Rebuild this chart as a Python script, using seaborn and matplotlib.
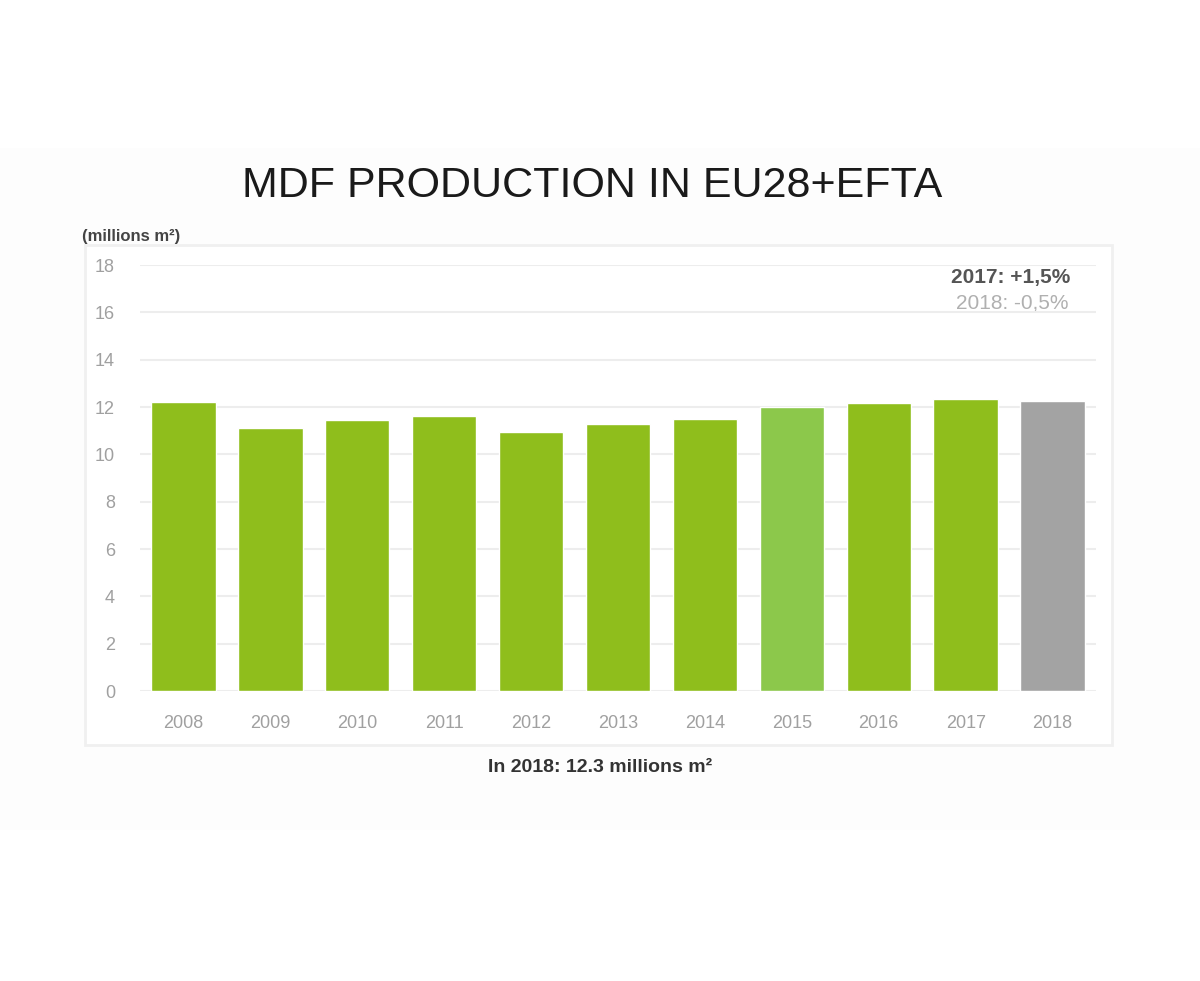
import pandas as pd
import seaborn as sns
import matplotlib.pyplot as plt
from matplotlib.patches import Rectangle

years = ['2008', '2009', '2010', '2011', '2012', '2013', '2014', '2015', '2016', '2017', '2018']
production = [12.2, 11.1, 11.45, 11.6, 10.95, 11.3, 11.5, 12.0, 12.15, 12.35, 12.25]
bar_colors = ['#8fbe1c'] * 10 + ['#a3a3a3']
bar_colors[7] = '#8cc84b'
y_ticks = list(range(0, 20, 2))

df = pd.DataFrame({'year': years, 'value': production})

sns.set_style('white')
plt.rcParams['font.family'] = ['Liberation Sans', 'DejaVu Sans']

fig = plt.figure(figsize=(12, 9.81), dpi=100)
# faint card background and box around the plot
fig.patches.append(Rectangle((0, 1 - 830 / 981), 1, (830 - 148) / 981, transform=fig.transFigure,
                             facecolor='#fdfdfd', edgecolor='none', zorder=0))
fig.patches.append(Rectangle((85 / 1200, 1 - 745 / 981), (1112 - 85) / 1200, (745 - 245) / 981,
                             transform=fig.transFigure, facecolor='white', edgecolor='#f0f0f0',
                             linewidth=2, zorder=0))

ax = fig.add_axes([140 / 1200, 1 - 691 / 981, (1096 - 140) / 1200, (691 - 265) / 981])
ax.set_zorder(5)
ax.set_facecolor('none')
sns.barplot(data=df, x='year', y='value', hue='year', palette=bar_colors, legend=False,
            width=0.74, saturation=1, ax=ax, zorder=3)

ax.set_ylim(0, 18)
ax.set_xlim(-0.5, 10.5)
ax.set_yticks(y_ticks)
ax.yaxis.grid(True, color='#ededed', linewidth=1.5, zorder=0)
ax.set_axisbelow(True)
for s in ax.spines.values():
    s.set_visible(False)
ax.tick_params(axis='both', length=0, colors='#a0a0a0', labelsize=13)
ax.tick_params(axis='x', pad=17)
ax.tick_params(axis='y', pad=18)
ax.set_xlabel('')
ax.set_ylabel('')

fig.text(592 / 1200, 1 - 186 / 981, 'MDF PRODUCTION IN EU28+EFTA', ha='center', va='center',
         fontsize=31, color='#1a1a1a')
fig.text(82 / 1200, 1 - 237 / 981, '(millions m²)', ha='left', va='center',
         fontsize=12, fontweight='bold', color='#444444')
fig.text(1070 / 1200, 1 - 277 / 981, '2017: +1,5%', ha='right', va='center',
         fontsize=15, fontweight='bold', color='#555555')
fig.text(1068 / 1200, 1 - 303 / 981, '2018: -0,5%', ha='right', va='center',
         fontsize=15, color='#b0b0b0')
fig.text(600 / 1200, 1 - 768 / 981, 'In 2018: 12.3 millions m²', ha='center', va='center',
         fontsize=14, fontweight='bold', color='#333333')

fig.savefig('out.png', dpi=100, facecolor='white')
